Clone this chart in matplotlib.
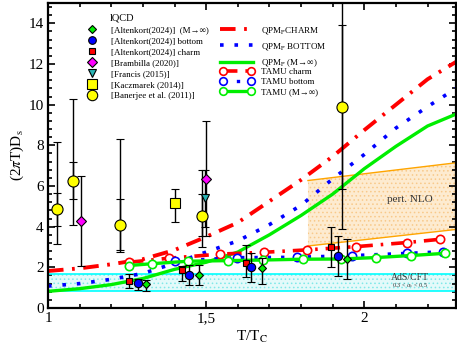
import matplotlib
matplotlib.use("Agg")
import matplotlib.pyplot as plt
from matplotlib.lines import Line2D
from matplotlib.ticker import MultipleLocator, FixedLocator, FixedFormatter
import numpy as np

plt.rcParams['font.family'] = ['Liberation Serif', 'DejaVu Serif']
plt.rcParams['mathtext.fontset'] = 'stix'
plt.rcParams['hatch.linewidth'] = 0.6

# QPM_P curves
T_qpm = [1.0, 1.1, 1.2, 1.3, 1.4, 1.5, 1.6, 1.7, 1.8, 1.9, 2.0, 2.1, 2.2, 2.3]
qpm_charm = [1.82, 1.95, 2.15, 2.4, 2.85, 3.5, 4.2, 5.25, 6.3, 7.45, 8.75, 10.0, 11.25, 12.2]
qpm_bottom = [1.08, 1.2, 1.41, 1.7, 2.2, 2.75, 3.3, 4.1, 5.05, 6.35, 7.55, 8.85, 9.9, 10.9]
qpm_inf = [0.82, 0.95, 1.15, 1.45, 1.9, 2.25, 2.75, 3.6, 4.55, 5.6, 6.85, 7.95, 8.95, 9.6]

# TAMU
tamu_c_T = [1.256, 1.383, 1.543, 1.683, 1.82, 1.975, 2.135, 2.24]
tamu_c_D = [2.25, 2.45, 2.65, 2.74, 2.86, 3.02, 3.22, 3.38]
tamu_b_T = [1.40, 1.596, 1.787, 1.96, 2.134, 2.248]
tamu_b_D = [2.3, 2.48, 2.5, 2.58, 2.69, 2.77]
tamu_inf_T = [1.257, 1.33, 1.443, 1.569, 1.68, 1.806, 1.925, 2.036, 2.147, 2.256]
tamu_inf_D = [2.09, 2.18, 2.3, 2.33, 2.36, 2.4, 2.41, 2.48, 2.58, 2.69]

# lattice QCD
alt_inf_T = [1.311, 1.476, 1.677, 1.944]
alt_inf_D = [1.18, 1.63, 1.99, 2.4]
alt_inf_lo = [0.85, 1.13, 1.18, 1.41]
alt_inf_hi = [1.38, 2.12, 2.48, 3.4]
alt_b_T = [1.284, 1.447, 1.643, 1.917]
alt_b_D = [1.22, 1.63, 2.04, 2.58]
alt_b_lo = [0.89, 1.13, 1.27, 1.58]
alt_b_hi = [1.43, 2.12, 2.72, 3.56]
alt_c_T = [1.256, 1.423, 1.625, 1.894]
alt_c_D = [1.35, 1.87, 2.23, 3.02]
alt_c_lo = [1.0, 1.34, 1.51, 2.0]
alt_c_hi = [1.66, 2.07, 3.1, 4.0]
bram_T = [1.104, 1.5]
bram_D = [4.27, 6.35]
bram_lo = [2.08, 3.55]
bram_hi = [6.47, 9.18]
fran_T = [1.495]
fran_D = [5.4]
fran_lo = [4.0]
fran_hi = [6.8]
kacz_T = [1.401]
kacz_D = [5.16]
kacz_lo = [4.22]
kacz_hi = [5.85]
ban_T = [1.03, 1.079, 1.229, 1.487, 1.93]
ban_D = [4.87, 6.24, 4.09, 4.53, 9.9]
ban_lo = [3.17, 4.07, 2.75, 2.99, 3.9]
ban_hi = [8.14, 10.3, 8.31, 6.8, 16.0]
ban_lo2 = [4.02, 5.38, 2.85, 3.55, 5.86]
ban_hi2 = [5.67, 7.16, 5.37, 5.6, 13.9]

# bands
nlo_T = [1.822, 2.3]
nlo_lo = [3.05, 3.88]
nlo_hi = [6.27, 7.16]
ads_T = [1.0, 2.3]
ads_lo = [0.85, 0.85]
ads_hi = [1.67, 1.67]

RED, BLUE, GREEN = '#ff0000', '#0000ff', '#00ee00'
dashdot = (0, (4, 2.2, 0.7, 2.2))
dotted = (0, (1, 3))

fig = plt.figure(figsize=(4.57, 3.51), dpi=100)
ax = fig.add_axes([48/457, 43/351, 408/457, 305/351])

# bands
ax.fill_between(ads_T, ads_lo, ads_hi, facecolor='#e4fafa', edgecolor='#7fe8e8', hatch='....', lw=0)
ax.plot(ads_T, ads_lo, color='cyan', lw=1.2)
ax.plot(ads_T, ads_hi, color='cyan', lw=1.2)
ax.fill_between(nlo_T, nlo_lo, nlo_hi, facecolor='#fdebd0', edgecolor='#f8c98a', hatch='....', lw=0)
ax.plot(nlo_T, nlo_lo, color='orange', lw=1)
ax.plot(nlo_T, nlo_hi, color='orange', lw=1)
ax.text(2.145, 5.35, 'pert. NLO', fontsize=8, ha='center', va='center', color='#333333')
ax.text(2.145, 1.5, 'AdS/CFT', fontsize=7, ha='center', va='center', color='#333333')
ax.text(2.145, 1.08, r'0.3 < $\alpha_s$ < 0.5', fontsize=4.5, ha='center', va='center', color='#333333')

# QPM curves
ax.plot(T_qpm, qpm_charm, color=RED, lw=2.8, ls=dashdot)
ax.plot(T_qpm, qpm_bottom, color=BLUE, lw=2.6, ls=dotted)
ax.plot(T_qpm, qpm_inf, color=GREEN, lw=2.4)

# TAMU
ax.plot(tamu_c_T, tamu_c_D, color=RED, lw=2.6, ls=dashdot, marker='o', ms=6, mfc='white', mec=RED, mew=1.2)
ax.plot(tamu_b_T, tamu_b_D, color=BLUE, lw=2.4, ls=dotted, marker='o', ms=6, mfc='white', mec=BLUE, mew=1.2)
ax.plot(tamu_inf_T, tamu_inf_D, color=GREEN, lw=2.4, marker='o', ms=6, mfc='white', mec=GREEN, mew=1.2)


def errs(T, D, lo, hi, **kw):
    D = np.array(D)
    yerr = [D - np.array(lo), np.array(hi) - D]
    ax.errorbar(T, D, yerr=yerr, ecolor='black', elinewidth=1, capsize=3, capthick=1,
                ls='none', mec='black', mew=0.8, zorder=5, **kw)


errs(alt_c_T, alt_c_D, alt_c_lo, alt_c_hi, marker='s', ms=4.5, mfc=RED)
errs(alt_b_T, alt_b_D, alt_b_lo, alt_b_hi, marker='o', ms=6, mfc=BLUE)
errs(alt_inf_T, alt_inf_D, alt_inf_lo, alt_inf_hi, marker='D', ms=4, mfc=GREEN)
errs(ban_T, ban_D, ban_lo2, ban_hi2, marker='none')
errs(ban_T, ban_D, ban_lo, ban_hi, marker='o', ms=8, mfc='yellow')
errs(kacz_T, kacz_D, kacz_lo, kacz_hi, marker='s', ms=6.5, mfc='yellow')
errs(fran_T, fran_D, fran_lo, fran_hi, marker='v', ms=6, mfc='#2ab5b5')
errs(bram_T, bram_D, bram_lo, bram_hi, marker='D', ms=5, mfc='magenta')

ax.set_xlim(1, 2.29)
ax.set_ylim(0, 15)
ax.xaxis.set_major_locator(FixedLocator([1, 1.5, 2]))
ax.xaxis.set_major_formatter(FixedFormatter(['1', '1,5', '2']))
ax.xaxis.set_minor_locator(MultipleLocator(0.1))
ax.yaxis.set_major_locator(MultipleLocator(2))
ax.yaxis.set_minor_locator(MultipleLocator(0.4))
ax.tick_params(which='both', direction='in', top=True, right=True, labelsize=11, width=1.2, pad=3)
ax.tick_params(which='major', length=5)
ax.tick_params(which='minor', length=3)
for s in ax.spines.values():
    s.set_linewidth(1.6)
ax.set_xlabel(r'T/T$_\mathrm{C}$', fontsize=11, labelpad=3)
ax.set_ylabel(r'(2$\pi$T)D$_\mathrm{s}$', fontsize=11, labelpad=2)

# legends
ax.text(110/457, 1 - 18/351, 'lQCD', transform=fig.transFigure, fontsize=7.5, va='center')
lq = [
    Line2D([], [], ls='none', marker='D', ms=3.8, mfc=GREEN, mec='black', mew=0.8),
    Line2D([], [], ls='none', marker='o', ms=5.5, mfc=BLUE, mec='black', mew=0.8),
    Line2D([], [], ls='none', marker='s', ms=4.2, mfc=RED, mec='black', mew=0.8),
    Line2D([], [], ls='none', marker='D', ms=5, mfc='magenta', mec='black', mew=0.8),
    Line2D([], [], ls='none', marker='v', ms=6, mfc='#2ab5b5', mec='black', mew=0.8),
    Line2D([], [], ls='none', marker='s', ms=6.5, mfc='yellow', mec='black', mew=0.8),
    Line2D([], [], ls='none', marker='o', ms=7.5, mfc='yellow', mec='black', mew=0.8),
]
lq_labels = ['[Altenkort(2024)]  (M→∞)', '[Altenkort(2024)] bottom', '[Altenkort(2024)] charm',
             '[Brambilla (2020)]', '[Francis (2015)]', '[Kaczmarek (2014)]', '[Banerjee et al. (2011)]']
leg1 = fig.legend(lq, lq_labels, loc='upper left', bbox_to_anchor=(85/457, 1 - 26/351),
                  frameon=False, fontsize=6.5, handlelength=1.5, handletextpad=1.4,
                  labelspacing=0.3, borderpad=0, borderaxespad=0, numpoints=1)

qh = [Line2D([], [], color=RED, lw=2.8, ls=dashdot),
      Line2D([], [], color=BLUE, lw=2.6, ls=dotted),
      Line2D([], [], color=GREEN, lw=2.4)]
qlab = [r'QPM$_\mathrm{P}$CHARM', r'QPM$_\mathrm{P}$ BOTTOM', r'QPM$_\mathrm{P}$ (M→∞)']
leg2 = fig.legend(qh, qlab, loc='upper left', bbox_to_anchor=(220/457, 1 - 25/351),
                  frameon=False, fontsize=6.5, handlelength=3.7, handletextpad=0.8,
                  labelspacing=0.55, borderpad=0, borderaxespad=0)

th = [Line2D([], [], color=RED, lw=2.6, ls=dashdot, marker='o', ms=5.5, mfc='white', mec=RED, mew=1.2),
      Line2D([], [], color=BLUE, lw=2.4, ls=dotted, marker='o', ms=5.5, mfc='white', mec=BLUE, mew=1.2),
      Line2D([], [], color=GREEN, lw=2.4, marker='o', ms=5.5, mfc='white', mec=GREEN, mew=1.2)]
tlab = ['TAMU charm', 'TAMU bottom', 'TAMU (M→∞)']
leg3 = fig.legend(th, tlab, loc='upper left', bbox_to_anchor=(220/457, 1 - 68/351),
                  frameon=False, fontsize=6.5, handlelength=3.7, handletextpad=0.8,
                  labelspacing=0.2, borderpad=0, borderaxespad=0, numpoints=2)

fig.savefig('out.png', dpi=100)
plt.close()
